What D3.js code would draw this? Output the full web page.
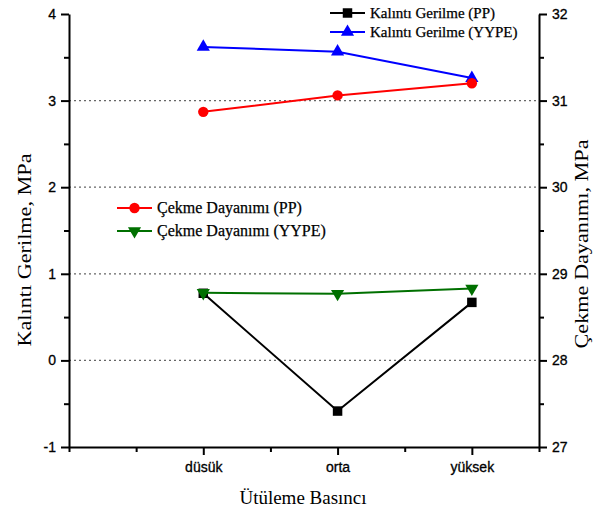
<!DOCTYPE html>
<html><head><meta charset="utf-8">
<script src="https://cdn.jsdelivr.net/npm/d3@7"></script>
<style>body{margin:0;background:#fff}</style>
</head><body>
<svg id="chart" width="597" height="512"></svg>
<script>
const categories = ["düsük", "orta", "yüksek"];
const leftTicks = [-1, 0, 1, 2, 3, 4];
const rightTicks = [27, 28, 29, 30, 31, 32];
const gridValues = [0, 1, 2, 3];

const kalintiPP = [0.775, -0.585, 0.67];
const kalintiYYPE = [3.62, 3.565, 3.26];
const cekmePP = [30.87, 31.06, 31.2];
const cekmeYYPE = [28.78, 28.77, 28.83];

const svg = d3.select("#chart");
const L = 69, R = 539, T = 14, B = 447;

// category positions: index -1 .. 2.5 spans the plot width
const x = d3.scaleLinear().domain([-1, 2.5]).range([L, R]);
const yL = d3.scaleLinear().domain([-1, 4]).range([B, T]);
const yR = d3.scaleLinear().domain([27, 32]).range([B, T]);

// dotted grid
svg.append("g").selectAll("line").data(gridValues).join("line")
  .attr("x1", L).attr("x2", R)
  .attr("y1", d => yL(d)).attr("y2", d => yL(d))
  .attr("stroke", "#666").attr("stroke-width", 1.2)
  .attr("stroke-dasharray", "2,3");

const tickFont = "Liberation Sans, Arial, sans-serif";
const intFmt = d => String(d); // plain hyphen for negatives

function styleAxis(g) {
  g.selectAll("path").attr("stroke", "#000").attr("stroke-width", 2);
  g.selectAll("line").attr("stroke", "#000").attr("stroke-width", 2);
  g.selectAll("text").attr("font-family", tickFont).attr("font-size", 14)
    .attr("fill", "#000").attr("stroke", "#000").attr("stroke-width", 0.3);
}

// left axis with minor ticks
const gL = svg.append("g").attr("transform", `translate(${L},0)`)
  .call(d3.axisLeft(yL).tickValues(leftTicks).tickSize(8).tickSizeOuter(0).tickPadding(5).tickFormat(intFmt));
styleAxis(gL);
svg.append("g").attr("transform", `translate(${L},0)`)
  .call(d3.axisLeft(yL).tickValues(d3.range(-0.5, 4, 1)).tickSize(5).tickFormat(""))
  .call(g => g.select("path").remove())
  .selectAll("line").attr("stroke", "#000").attr("stroke-width", 2);

// right axis with minor ticks
const gR = svg.append("g").attr("transform", `translate(${R},0)`)
  .call(d3.axisRight(yR).tickValues(rightTicks).tickSize(8).tickSizeOuter(0).tickPadding(5).tickFormat(intFmt));
styleAxis(gR);
svg.append("g").attr("transform", `translate(${R},0)`)
  .call(d3.axisRight(yR).tickValues(d3.range(27.5, 32, 1)).tickSize(5).tickFormat(""))
  .call(g => g.select("path").remove())
  .selectAll("line").attr("stroke", "#000").attr("stroke-width", 2);

// bottom axis: category ticks plus half-step minor ticks
const gB = svg.append("g").attr("transform", `translate(0,${B})`)
  .call(d3.axisBottom(x).tickValues([-1, 0, 1, 2, 2.5]).tickSize(8).tickSizeOuter(0).tickPadding(7)
    .tickFormat(d => (Number.isInteger(d) && d >= 0) ? categories[d] : ""));
styleAxis(gB);
gB.selectAll(".tick").filter(d => d === -1 || d === 2.5).select("line").attr("y2", 5);
svg.append("g").attr("transform", `translate(0,${B})`)
  .call(d3.axisBottom(x).tickValues([-0.5, 0.5, 1.5]).tickSize(5).tickFormat(""))
  .call(g => g.select("path").remove())
  .selectAll("line").attr("stroke", "#000").attr("stroke-width", 2);

// axis titles
const titleFont = "Liberation Serif, Times New Roman, serif";
svg.append("text").attr("transform", `translate(31,250) rotate(-90) scale(1.17,1)`)
  .attr("text-anchor", "middle").attr("font-family", titleFont).attr("font-size", 19)
  .text("Kalıntı Gerilme, MPa");
svg.append("text").attr("transform", `translate(588,244) rotate(-90) scale(1.17,1)`)
  .attr("text-anchor", "middle").attr("font-family", titleFont).attr("font-size", 19)
  .text("Çekme Dayanımı, MPa");
svg.append("text").attr("x", 303).attr("y", 504)
  .attr("text-anchor", "middle").attr("font-family", titleFont).attr("font-size", 19)
  .text("Ütüleme Basıncı");

const series = [
  { name: "Kalıntı Gerilme (PP)", values: kalintiPP, y: yL, color: "#000", marker: "square" },
  { name: "Kalıntı Gerilme (YYPE)", values: kalintiYYPE, y: yL, color: "#0000ff", marker: "triangle" },
  { name: "Çekme Dayanımı (PP)", values: cekmePP, y: yR, color: "#ff0000", marker: "circle" },
  { name: "Çekme Dayanımı (YYPE)", values: cekmeYYPE, y: yR, color: "#007000", marker: "down" }
];

const symbolOf = {
  square: d3.symbol(d3.symbolSquare, 90),
  triangle: d3.symbol(d3.symbolTriangle, 75),
  circle: d3.symbol(d3.symbolCircle, 85),
  down: d3.symbol(d3.symbolTriangle, 75)
};

function drawMarker(g, s, cx, cy) {
  g.append("path").attr("d", symbolOf[s.marker]())
    .attr("transform", `translate(${cx},${cy})` + (s.marker === "down" ? " rotate(180)" : ""))
    .attr("fill", s.color);
}

series.forEach(s => {
  const line = d3.line().x((d, i) => x(i)).y(d => s.y(d));
  svg.append("path").datum(s.values).attr("d", line)
    .attr("fill", "none").attr("stroke", s.color).attr("stroke-width", 2);
  const g = svg.append("g");
  s.values.forEach((v, i) => drawMarker(g, s, x(i), s.y(v)));
});

// legends
function legend(items, x0, y0, dy, fs) {
  items.forEach((s, i) => {
    const yy = y0 + i * dy;
    const g = svg.append("g");
    g.append("line").attr("x1", x0).attr("x2", x0 + 35).attr("y1", yy).attr("y2", yy)
      .attr("stroke", s.color).attr("stroke-width", 2);
    drawMarker(g, s, x0 + 17.5, yy);
    g.append("text").attr("x", x0 + 40).attr("y", yy + 5)
      .attr("font-family", titleFont).attr("font-size", fs)
      .attr("stroke", "#000").attr("stroke-width", 0.25).text(s.name);
  });
}
legend(series.slice(0, 2), 330, 13, 19, 15);
legend(series.slice(2, 4), 117, 208, 23, 16);
</script>
</body></html>
